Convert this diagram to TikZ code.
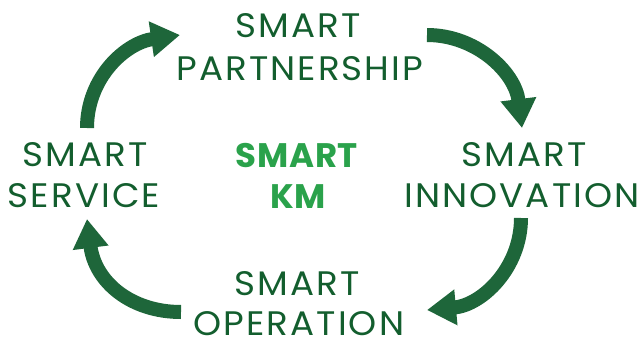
\documentclass[tikz,border=0pt]{standalone}
\usepackage{fontspec}
\setmainfont{Poppins}
\newfontfamily\lblfont{Poppins}[LetterSpace=6, FakeStretch=1.05]
\newfontfamily\kmfont{Poppins}[LetterSpace=2]
\usetikzlibrary{arrows.meta}
\definecolor{txtgreen}{HTML}{135E2E}
\definecolor{arrgreen}{HTML}{1E663A}
\definecolor{kmgreen}{HTML}{2AA24B}
\tikzset{
  lbl/.style={anchor=base, inner sep=0pt, text=txtgreen, font=\lblfont\fontsize{34}{40}\selectfont},
  center lbl/.style={anchor=base, inner sep=0pt, text=kmgreen, font=\kmfont\fontsize{34}{40}\selectfont\bfseries},
  cyclearrow/.style={draw=arrgreen, line width=14pt, line cap=butt, -{Triangle[length=29pt,width=34pt]}}
}
\begin{document}
\begin{tikzpicture}[x=1pt,y=-1pt]
\useasboundingbox (0,0) rectangle (639,340);
% labels
\node[lbl] (p1) at (298,37) {SMART};
\node[lbl] (p2) at (300,80) {PARTNERSHIP};
\node[lbl] (s1) at (85,166) {SMART};
\node[lbl] (s2) at (84,207) {SERVICE};
\node[lbl] (i1) at (524,166) {SMART};
\node[lbl] (i2) at (522,207) {INNOVATION};
\node[lbl] (o1) at (297,295) {SMART};
\node[lbl] (o2) at (299,335) {OPERATION};
\node[center lbl] (k1) at (297,167) {SMART};
\node[center lbl] (k2) at (298,208) {KM};
% arrow end points
\coordinate (a1s) at (87,128);  \coordinate (a1e) at (180,35);
\coordinate (a2s) at (427,35);  \coordinate (a2e) at (522,128);
\coordinate (a3s) at (521,218); \coordinate (a3e) at (427,310);
\coordinate (a4s) at (181,312); \coordinate (a4e) at (87,219);
\draw[cyclearrow] (a1s) .. controls (87,78) and (125,43) .. (a1e);
\draw[cyclearrow] (a2s) .. controls (476,35) and (515,72) .. (a2e);
\draw[cyclearrow] (a3s) .. controls (521,268) and (482,305) .. (a3e);
\draw[cyclearrow] (a4s) .. controls (131,312) and (95,282) .. (a4e);
\end{tikzpicture}
\end{document}
